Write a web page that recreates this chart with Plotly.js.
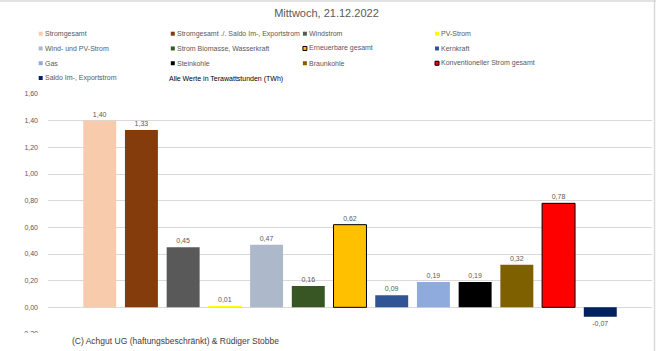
<!DOCTYPE html>
<html>
<head>
<meta charset="utf-8">
<script src="https://cdn.plot.ly/plotly-3.0.1.min.js"></script>
<style>html,body{margin:0;padding:0;background:#fff;}#chart{width:656px;height:351px;}</style>
</head>
<body>
<div id="chart"></div>
<script>
// ---- data ----
const categories = [
  "Stromgesamt",
  "Stromgesamt ./. Saldo Im-, Exportstrom",
  "Windstrom",
  "PV-Strom",
  "Wind- und PV-Strom",
  "Strom Biomasse, Wasserkraft",
  "Erneuerbare gesamt",
  "Kernkraft",
  "Gas",
  "Steinkohle",
  "Braunkohle",
  "Konventioneller Strom gesamt",
  "Saldo Im-, Exportstrom"
];
const values = [1.40, 1.33, 0.45, 0.01, 0.47, 0.16, 0.62, 0.09, 0.19, 0.19, 0.32, 0.78, -0.07];
const colors = ["#F8CBAD", "#843C0C", "#595959", "#FFFF00", "#ADB9CA", "#375623", "#FFC000",
                "#2F5597", "#8FAADC", "#000000", "#7F6000", "#FF0000", "#002060"];
const outlined = [false, false, false, false, false, false, true, false, false, false, false, true, false];
const yTicks = [-0.2, 0, 0.2, 0.4, 0.6, 0.8, 1.0, 1.2, 1.4, 1.6];
const titleText = "Mittwoch, 21.12.2022";
const unitNote = "Alle Werte in Terawattstunden (TWh)";
const footerText = "(C) Achgut UG (haftungsbeschränkt) & Rüdiger Stobbe";

// ---- layout helpers ----
const W = 656, H = 351;
const M = {l: 48, r: 4, t: 94, b: 17};
const PW = W - M.l - M.r, PH = H - M.t - M.b;
const xp = px => (px - M.l) / PW;
const yp = py => 1 - (py - M.t) / PH;
const grey = "#595959";
const fam = "Liberation Sans, Arial, sans-serif";

const fmt = v => v.toFixed(2).replace(".", ",");

const trace = {
  type: "bar",
  x: categories,
  y: values,
  marker: {
    color: colors,
    line: {color: outlined.map(o => o ? "#000000" : "rgba(0,0,0,0)"), width: outlined.map(o => o ? 1 : 0)}
  },
  text: values.map(fmt),
  textposition: "outside",
  textfont: {family: fam, size: 7, color: grey},
  outsidetextfont: {family: fam, size: 7, color: grey},
  constraintext: "none",
  cliponaxis: false,
  hoverinfo: "none",
  showlegend: false
};

const annotations = [];
const shapes = [];

// legend (4 columns)
const colX0 = 40.7, colStep = 132.1, rowY0 = 33.7, rowStep = 14.77, sq = 4;
categories.forEach((name, i) => {
  const col = i % 4, row = Math.floor(i / 4);
  const cx = colX0 + col * colStep, cy = rowY0 + row * rowStep;
  shapes.push({
    type: "rect", xref: "paper", yref: "paper", layer: "above",
    x0: xp(cx - sq / 2), x1: xp(cx + sq / 2), y0: yp(cy + sq / 2), y1: yp(cy - sq / 2),
    fillcolor: colors[i],
    line: {color: outlined[i] ? "#000000" : "rgba(0,0,0,0)", width: outlined[i] ? 1 : 0}
  });
  annotations.push({
    xref: "paper", yref: "paper", x: xp(cx + 2.5), y: yp(cy),
    xanchor: "left", yanchor: "middle", showarrow: false,
    text: name, font: {family: fam, size: 7, color: grey}
  });
});
annotations.push({
  xref: "paper", yref: "paper", x: xp(166.5), y: yp(rowY0 + 3 * rowStep + 1),
  xanchor: "left", yanchor: "middle", showarrow: false,
  text: unitNote, font: {family: fam, size: 7, color: "#000000"}
});

// footer box + text
shapes.push({
  type: "rect", xref: "paper", yref: "paper", layer: "above",
  x0: xp(15), x1: xp(381), y0: yp(351), y1: yp(333),
  fillcolor: "#ffffff", line: {width: 0}
});
annotations.push({
  xref: "paper", yref: "paper", x: xp(70), y: yp(341),
  xanchor: "left", yanchor: "middle", showarrow: false,
  text: footerText, font: {family: fam, size: 8.5, color: "#404040"}
});

// outer frame (top & right)
shapes.push({type: "line", xref: "paper", yref: "paper", layer: "above",
  x0: xp(0), x1: xp(656), y0: yp(1), y1: yp(1), line: {color: "#d9d9d9", width: 1.5}});
shapes.push({type: "line", xref: "paper", yref: "paper", layer: "above",
  x0: xp(654.5), x1: xp(654.5), y0: yp(0), y1: yp(351), line: {color: "#d9d9d9", width: 1.5}});

const layout = {
  width: W, height: H,
  margin: M,
  paper_bgcolor: "#ffffff",
  plot_bgcolor: "#ffffff",
  separators: ",.",
  bargap: 0.21,
  font: {family: fam, color: grey},
  title: {
    text: titleText, font: {family: fam, size: 11, color: grey},
    xref: "container", yref: "container", x: 326.5 / W, y: 1 - 13.5 / H,
    xanchor: "center", yanchor: "middle"
  },
  xaxis: {
    type: "category", range: [-1.24, 13.24], showticklabels: false,
    showgrid: false, zeroline: false, showline: false, ticks: "", fixedrange: true
  },
  yaxis: {
    range: [-0.2, 1.6], tickvals: yTicks, tickformat: ".2f",
    showgrid: true, gridcolor: "#d9d9d9", gridwidth: 1,
    zeroline: true, zerolinecolor: "#d9d9d9", zerolinewidth: 1,
    showline: false, ticks: "", ticklabelstandoff: 9,
    tickfont: {family: fam, size: 7, color: grey}, fixedrange: true
  },
  shapes: shapes,
  annotations: annotations
};

Plotly.newPlot("chart", [trace], layout, {staticPlot: true, displayModeBar: false});
</script>
</body>
</html>
